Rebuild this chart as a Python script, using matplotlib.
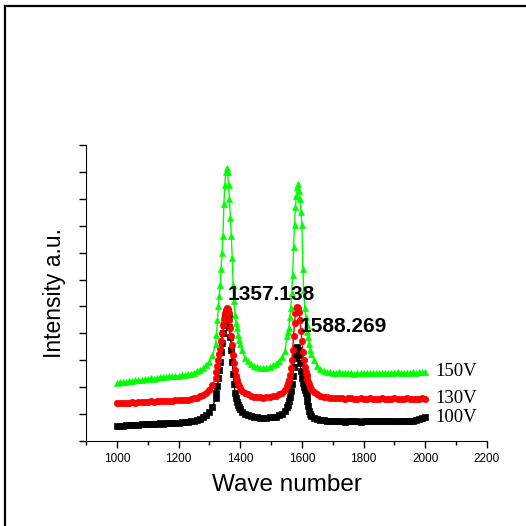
import matplotlib
matplotlib.use('Agg')
import matplotlib.pyplot as plt
import numpy as np
from matplotlib.lines import Line2D
from matplotlib.ticker import MultipleLocator, NullFormatter

# wave numbers (cm-1) of the read-off points: coarse on the baseline, fine on the peaks
wave = np.concatenate([
    np.arange(1000, 1311, 10),
    np.arange(1320, 1399, 3),
    np.arange(1405, 1546, 10),
    np.arange(1552, 1631, 3),
    np.arange(1640, 2001, 10),
])

# intensities (a.u.), same order as wave
int_100 = [55, 54, 57, 58, 58, 60, 61, 60, 62, 63,
           64, 63, 65, 64, 66, 65, 66, 67, 66, 68,
           68, 70, 71, 72, 74, 76, 79, 83, 88, 95,
           106, 125,
           160, 180, 205, 235, 265, 295, 330, 365, 400, 430,
           460, 480, 487, 480, 460, 425, 385, 340, 295, 250,
           210, 180, 160, 145, 133, 125, 118,
           108, 100, 95, 92, 90, 88, 87, 86, 87, 88, 89, 91, 95, 101, 112,
           125, 135, 148, 165, 185, 210, 240, 275, 310, 335,
           345, 348, 340, 320, 290, 260, 235, 215, 200, 190,
           180, 168, 150, 130, 112, 100, 92,
           86, 82, 79, 77, 76, 75, 74, 75, 73, 74,
           72, 74, 75, 73, 74, 72, 73, 74, 75, 73,
           74, 76, 74, 73, 75, 74, 73, 75, 74, 76,
           75, 74, 76, 77, 80, 84, 88]

int_130 = [140, 142, 141, 143, 142, 144, 143, 145, 144, 146,
           145, 147, 146, 148, 147, 149, 148, 150, 149, 151,
           152, 153, 152, 154, 156, 158, 161, 166, 172, 180,
           190, 208,
           235, 255, 280, 300, 325, 345, 370, 400, 430, 455,
           475, 488, 494, 490, 475, 450, 420, 390, 355, 320,
           290, 262, 240, 225, 212, 203, 196,
           187, 179, 173, 168, 165, 163, 162, 161, 162, 163, 166, 169, 173, 179, 190,
           205, 215, 228, 245, 270, 300, 340, 390, 440, 475,
           492, 498, 495, 480, 450, 410, 370, 330, 300, 275,
           258, 245, 232, 220, 210, 200, 193,
           182, 174, 168, 164, 162, 160, 159, 160, 158, 159,
           157, 158, 159, 157, 156, 158, 157, 156, 158, 157,
           156, 157, 158, 156, 157, 156, 158, 157, 156, 157,
           158, 156, 157, 156, 157, 158, 157]

int_150 = [214, 218, 220, 219, 222, 224, 226, 225, 228, 230,
           231, 233, 232, 235, 236, 238, 237, 240, 241, 240,
           243, 245, 246, 248, 250, 254, 259, 265, 272, 282,
           295, 318,
           360, 395, 450, 500, 540, 580, 640, 700, 760, 880,
           950, 1000, 1015, 1000, 950, 900, 830, 760, 680, 580,
           520, 470, 440, 420, 395, 375, 362,
           340, 310, 296, 285, 278, 274, 271, 270, 272, 276, 281, 288, 298, 312, 335,
           390, 405, 420, 460, 494, 550, 617, 720, 803, 870,
           910, 945, 955, 930, 900, 850, 803, 640, 560, 494,
           460, 430, 405, 385, 360, 340, 325,
           300, 280, 268, 261, 257, 255, 254, 253, 255, 252,
           253, 251, 252, 250, 252, 253, 251, 253, 252, 254,
           253, 252, 254, 253, 252, 254, 253, 255, 253, 254,
           252, 254, 255, 254, 256, 255, 257]

series = [
    (int_100, 'black', 's', 4.3, '100V'),
    (int_130, 'red', 'o', 4.6, '130V'),
    (int_150, '#00ff00', '^', 5.0, '150V'),
]

peak_labels = [(1360, 546, '1357.138'), (1593, 424, '1588.269')]

fig = plt.figure(figsize=(5.26, 5.26), dpi=100)
ax = fig.add_axes([86 / 526, 85 / 526, 401 / 526, 296 / 526])

for y, col, mk, ms, name in series:
    ax.plot(wave, y, color=col, marker=mk, markersize=ms, linewidth=1,
            markeredgewidth=0.5)
    # series name at the right end of each trace
    ax.text(2034, y[-1], name, fontsize=13.5, family='Liberation Serif',
            ha='left', va='center')

for x, y, s in peak_labels:
    ax.text(x, y, s, fontsize=15, fontweight='bold', family='Liberation Sans',
            ha='left', va='center')

ax.set_xlim(900, 2200)
ax.set_ylim(0, 1100)
ax.xaxis.set_major_locator(MultipleLocator(200))
ax.xaxis.set_minor_locator(MultipleLocator(100))
ax.yaxis.set_major_locator(MultipleLocator(100))
ax.yaxis.set_major_formatter(NullFormatter())
ax.tick_params(axis='both', which='major', direction='out', length=5, width=1)
ax.tick_params(axis='x', which='minor', direction='out', length=3, width=1)
ax.tick_params(axis='x', labelsize=8.5, pad=4)
for lab in ax.get_xticklabels():
    lab.set_family('Liberation Sans')

ax.spines['top'].set_visible(False)
ax.spines['right'].set_visible(False)

ax.set_xlabel('Wave number', fontsize=17.5, family='Liberation Sans', labelpad=6)
ax.set_ylabel('Intensity a.u.', fontsize=16.5, family='Liberation Sans', labelpad=6)

# outer frame (only left and top edges fall inside the picture)
fig.add_artist(Line2D([5 / 526, 5 / 526], [0, 1 - 6 / 526], transform=fig.transFigure,
                      color='black', linewidth=1.6))
fig.add_artist(Line2D([5 / 526, 1], [1 - 6 / 526, 1 - 6 / 526], transform=fig.transFigure,
                      color='black', linewidth=1.6))

fig.savefig('out.png', dpi=100)
